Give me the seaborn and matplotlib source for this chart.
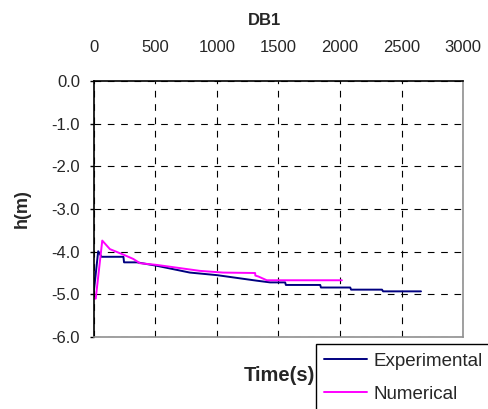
import pandas as pd
import matplotlib
matplotlib.use('Agg')
import matplotlib.pyplot as plt
import seaborn as sns

exp_t = [0, 35, 62, 240, 245, 350, 510, 780, 1000, 1324, 1432, 1554, 1560, 1839, 1845,
         2083, 2090, 2341, 2350, 2658]
exp_h = [-4.92, -3.99, -4.12, -4.12, -4.25, -4.25, -4.33, -4.49, -4.55, -4.68, -4.72,
         -4.72, -4.78, -4.78, -4.84, -4.84, -4.89, -4.89, -4.93, -4.93]
num_t = [0, 15, 68, 130, 240, 320, 374, 510, 862, 1050, 1310, 1312, 1335, 1405, 2015]
num_h = [-5.1, -5.1, -3.74, -3.94, -4.07, -4.17, -4.27, -4.31, -4.45, -4.49, -4.50,
         -4.56, -4.58, -4.67, -4.67]

df = pd.concat([
    pd.DataFrame({'t': exp_t, 'h': exp_h, 'series': 'Experimental'}),
    pd.DataFrame({'t': num_t, 'h': num_h, 'series': 'Numerical'}),
])

sns.set_style('white')
plt.rcParams['font.family'] = ['Liberation Sans', 'DejaVu Sans']
plt.rcParams['font.size'] = 12

fig = plt.figure(figsize=(4.89, 4.09), dpi=100)
ax = fig.add_axes([0.192, 0.176, 0.755, 0.626])

sns.lineplot(data=df, x='t', y='h', hue='series', sort=False, estimator=None,
             palette={'Experimental': '#000080', 'Numerical': '#FF00FF'},
             linewidth=1.4, ax=ax)

ax.set_xlim(0, 3000)
ax.set_ylim(-6, 0)
ax.set_xticks(range(0, 3001, 500))
ax.set_yticks([0, -1, -2, -3, -4, -5, -6])
ax.set_yticklabels(['0.0', '-1.0', '-2.0', '-3.0', '-4.0', '-5.0', '-6.0'])
ax.xaxis.tick_top()
ax.tick_params(axis='x', length=0, pad=19, labelsize=12)
ax.tick_params(axis='y', length=3, width=1, color='black', direction='out', pad=7,
               labelsize=12, left=True)
ax.grid(True, color='black', linestyle=(0, (6, 6)), linewidth=0.8)

ax.spines['left'].set_color('black')
ax.spines['top'].set_color('black')
ax.spines['right'].set_color('#909090')
ax.spines['bottom'].set_color('#909090')
for s in ax.spines.values():
    s.set_linewidth(1.2)

ax.set_xlabel('')
ax.set_ylabel('')
fig.text(0.045, 0.489, 'h(m)', ha='center', va='center', rotation=90,
         fontweight='bold', fontsize=13)
fig.text(0.54, 0.95, 'DB1', ha='center', va='center', fontweight='bold', fontsize=12)
fig.text(0.571, 0.083, 'Time(s)', ha='center', va='center', fontweight='bold', fontsize=14.5)

handles, labels = ax.get_legend_handles_labels()
leg = ax.legend(handles, labels, loc='upper left', bbox_to_anchor=(0.646, 0.159),
                bbox_transform=fig.transFigure, frameon=True, fancybox=False,
                edgecolor='black', framealpha=1, fontsize=13.5, handlelength=2.3,
                handletextpad=0.3, labelspacing=0.85, borderaxespad=0, borderpad=0.45)
leg.get_frame().set_linewidth(1.0)

fig.savefig('out.png', dpi=100)
